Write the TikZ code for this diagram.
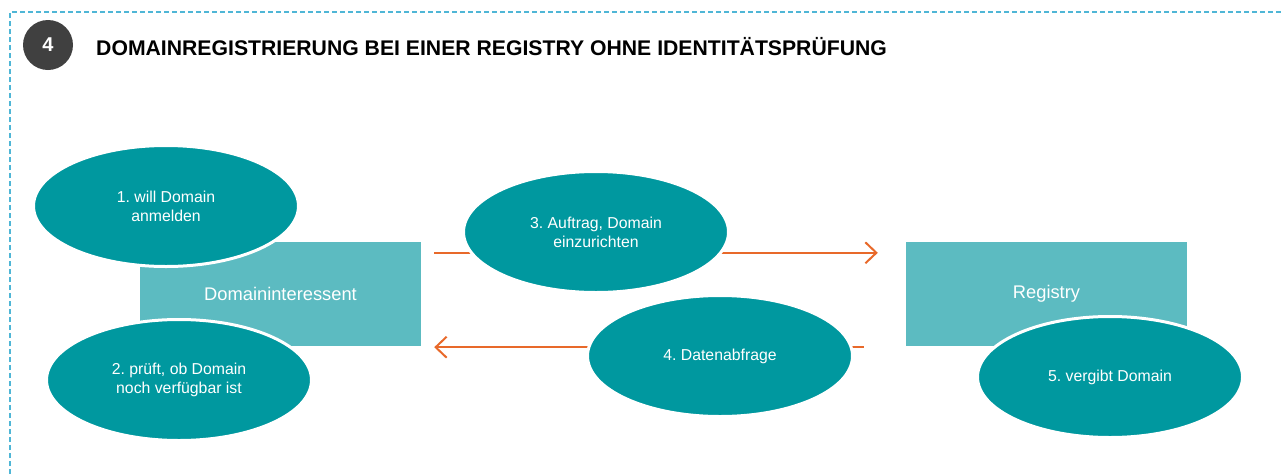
\documentclass[tikz,border=0pt]{standalone}
\usepackage{fontspec}
\setmainfont{Liberation Sans}
\usetikzlibrary{shapes.geometric,arrows.meta}
\frenchspacing
\definecolor{petrol}{HTML}{00989F}
\definecolor{tuerkis}{HTML}{5CBBC1}
\definecolor{orangerot}{HTML}{E8692A}
\definecolor{rahmen}{HTML}{4FB6D6}
\definecolor{dunkelgrau}{HTML}{404040}
\tikzset{%
  akteur/.style={fill=tuerkis,minimum width=281pt,minimum height=104pt,inner sep=0pt,text=white,font=\fontsize{18.3}{22}\selectfont},%
  schritt/.style={ellipse,fill=petrol,draw=white,line width=3pt,minimum width=265pt,minimum height=121pt,inner sep=0pt,text=white,align=center,font=\fontsize{15.8}{19}\selectfont},%
  fluss/.style={draw=orangerot,line width=2pt,-{Straight Barb[length=11pt,width=21pt,line width=2pt]}}%
}
\begin{document}
\begin{tikzpicture}[x=1pt,y=-1pt]%
\useasboundingbox (0,0) rectangle (1281,474);%
% frame
\draw[rahmen,line width=1.6pt,dash pattern=on 5pt off 3pt] (10,474) -- (10,12) -- (1281,12);%
% heading
\node[circle,fill=dunkelgrau,minimum size=50pt,inner sep=0pt,text=white,font=\bfseries\fontsize{20}{20}\selectfont] (nummer) at (48,45) {4};%
\node[anchor=base west,inner sep=0pt,font=\bfseries\fontsize{21.2}{24}\selectfont] (titel) at (96,55) {DOMAINREGISTRIERUNG BEI EINER REGISTRY OHNE IDENTITÄTSPRÜFUNG};%
% parties
\node[akteur] (interessent) at (280.5,294) {Domaininteressent};%
\node[akteur] (registry) at (1046.5,294) {Registry};%
% flows
\draw[fluss] ([shift={(13,11)}]interessent.north east) -- ([shift={(-28,11)}]registry.north west);%
\draw[fluss] ([shift={(-42,1)}]registry.south west) -- ([shift={(13,1)}]interessent.south east);%
% steps
\node[schritt] (wunsch) at (166,206) {1. will Domain\\anmelden};%
\node[schritt] (pruefung) at (179,380) {2. prüft, ob Domain\\noch verfügbar ist};%
\node[schritt] (auftrag) at (596,232) {3. Auftrag, Domain\\einzurichten};%
\node[schritt] (abfrage) at (720,356) {4. Datenabfrage};%
\node[schritt] (vergabe) at (1110,377) {5. vergibt Domain};%
\end{tikzpicture}
\end{document}
